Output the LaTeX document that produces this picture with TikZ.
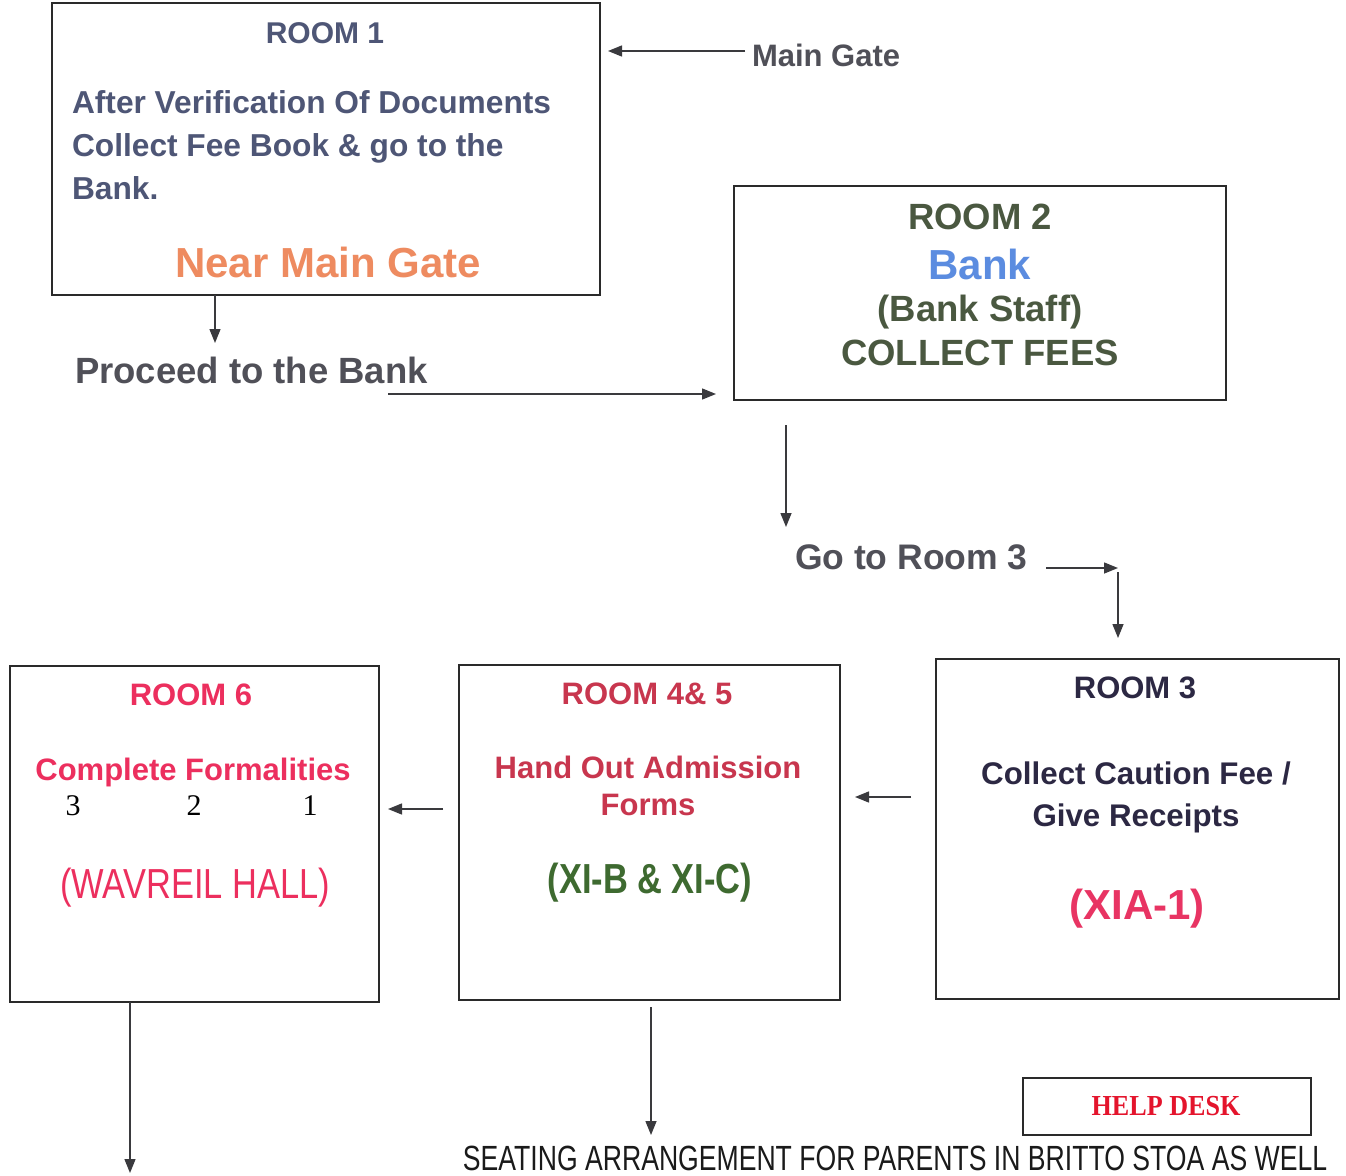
\documentclass[tikz,border=0pt]{standalone}
\usepackage{fontspec}
\setmainfont{Liberation Sans}
\newfontfamily\narrowfont[FakeStretch=0.82]{Liberation Sans}
\newfontfamily\seatfont[FakeStretch=0.76]{Liberation Sans}
\newfontfamily\digitfont{Liberation Serif}
\newfontfamily\helpfont[FakeStretch=0.9]{Liberation Serif}
\usetikzlibrary{arrows.meta}
\definecolor{boxline}{HTML}{2A2A2A}
\definecolor{arrgray}{HTML}{3A3A3E}
\definecolor{rOnecol}{HTML}{4E5676}
\definecolor{orangeA}{HTML}{EE8B60}
\definecolor{graytxt}{HTML}{505058}
\definecolor{rTwocol}{HTML}{4A5840}
\definecolor{bankblue}{HTML}{5B8CE0}
\definecolor{rSixred}{HTML}{EC2F5E}
\definecolor{rFFred}{HTML}{C8364E}
\definecolor{xigreen}{HTML}{3E6A30}
\definecolor{rThreenavy}{HTML}{2C2843}
\definecolor{xiapink}{HTML}{E83463}
\definecolor{helpred}{HTML}{E4142C}
\definecolor{seatcol}{HTML}{1A1A1A}
\newcommand\myfs[2]{\fontsize{#1}{#2}\selectfont}
\begin{document}
\begin{tikzpicture}[x=1pt,y=-1pt,
  roombox/.style={draw=boxline, line width=2pt, inner sep=0pt, outer sep=0pt, rectangle},
  lbl/.style={inner sep=0pt, outer sep=0pt},
  arr/.style={draw=arrgray, line width=1.4pt, -{Triangle[length=14pt,width=11pt]}}]
\useasboundingbox[fill=white] (0,0) rectangle (1346,1175);

% boxes
\node[roombox, minimum width=548pt, minimum height=292pt] (r1) at (326,149) {};
\node[roombox, minimum width=492pt, minimum height=214pt] (r2) at (980,293) {};
\node[roombox, minimum width=369pt, minimum height=336pt] (r6) at (194.5,834) {};
\node[roombox, minimum width=381pt, minimum height=335pt] (r45) at (649.5,832.5) {};
\node[roombox, minimum width=403pt, minimum height=340pt] (r3) at (1137.5,829) {};
\node[roombox, minimum width=288pt, minimum height=57pt] (hd) at (1167,1106.5) {};

% room 1
\node[lbl, text=rOnecol, font=\myfs{30}{36}\bfseries] (r1t) at (325,33) {ROOM 1};
\node[lbl, text=rOnecol, font=\myfs{31.7}{43}\bfseries, align=left, anchor=west] (r1b) at (72,145)
  {After Verification Of Documents\\Collect Fee Book \& go to the\\Bank.};
\node[lbl, text=orangeA, font=\myfs{42}{50}\bfseries] (r1n) at (328,262) {Near Main Gate};

% main gate
\node[lbl, text=graytxt, font=\myfs{31}{36}\bfseries, anchor=west] (mg) at (752,55) {Main Gate};
\coordinate (mgA) at (745,51);
\draw[arr, shorten >=8pt] (mgA) -- (mgA -| r1.east);

% proceed
\coordinate (p1) at (215,343);
\draw[arr] (p1 |- r1.south) -- (p1);
\node[lbl, text=graytxt, font=\myfs{36.5}{40}\bfseries, anchor=west] (pb) at (75,370) {Proceed to the Bank};
\coordinate (p2) at (388,394);
\draw[arr, shorten >=18pt] (p2) -- (p2 -| r2.west);

% room 2
\node[lbl, text=rTwocol, font=\myfs{36.5}{40}\bfseries] (r2t) at (980,217) {ROOM 2};
\node[lbl, text=bankblue, font=\myfs{42}{46}\bfseries] (r2b) at (980,264) {Bank};
\node[lbl, text=rTwocol, font=\myfs{36.5}{40}\bfseries] (r2s) at (980,312) {(Bank Staff)};
\node[lbl, text=rTwocol, font=\myfs{36.5}{40}\bfseries] (r2c) at (980,353) {COLLECT FEES};

% go to room 3
\coordinate (g1) at (786,527);
\draw[arr, shorten <=25pt] (g1 |- r2.south) -- (g1);
\node[lbl, text=graytxt, font=\myfs{35.5}{40}\bfseries, anchor=west] (g3) at (795,557) {Go to Room 3};
\coordinate (g2) at (1046,568);
\coordinate (g4) at (1118,568);
\draw[arr] (g2) -- (g4);
\draw[arr, shorten <=4pt, shorten >=21pt] (g4) -- (g4 |- r3.north);

% room 3
\node[lbl, text=rThreenavy, font=\myfs{31}{36}\bfseries] (r3t) at (1135,688) {ROOM 3};
\node[lbl, text=rThreenavy, font=\myfs{31.3}{42}\bfseries, align=center] (r3b) at (1136,797)
  {Collect Caution Fee /\\Give Receipts};
\node[lbl, text=xiapink, font=\myfs{42}{46}\bfseries] (r3x) at (1137,909) {(XIA-1)};

% room 4 & 5
\node[lbl, text=rFFred, font=\myfs{31}{36}\bfseries] (r45t) at (647,694) {ROOM 4\& 5};
\node[lbl, text=rFFred, font=\myfs{31}{37}\bfseries, align=center] (r45b) at (648,786)
  {Hand Out Admission\\Forms};
\node[lbl, text=xigreen, font=\narrowfont\myfs{42}{46}\bfseries] (r45x) at (650,883) {(XI-B \& XI-C)};

% room 6
\node[lbl, text=rSixred, font=\myfs{31}{36}\bfseries] (r6t) at (191,695) {ROOM 6};
\node[lbl, text=rSixred, font=\myfs{31}{36}\bfseries] (r6b) at (193,772) {Complete Formalities};
\node[lbl, text=black, font=\digitfont\myfs{30}{34}] (r6n) at (191.5,806)
  {\makebox[0pt]{3}\hspace{121pt}\makebox[0pt]{2}\hspace{116pt}\makebox[0pt]{1}};
\node[lbl, text=rSixred, font=\narrowfont\myfs{42}{46}] (r6h) at (195,888) {(WAVREIL HALL)};

% horizontal arrows between bottom rooms
\coordinate (h1) at (0,797);
\draw[arr, shorten <=25pt, shorten >=15pt] (h1 -| r3.west) -- (h1 -| r45.east);
\coordinate (h2) at (0,809);
\draw[arr, shorten <=16pt, shorten >=9pt] (h2 -| r45.west) -- (h2 -| r6.east);

% down arrows
\coordinate (d1) at (130,1173);
\draw[arr] (d1 |- r6.south) -- (d1);
\coordinate (d2) at (651,1135);
\draw[arr, shorten <=7pt] (d2 |- r45.south) -- (d2);

% help desk and seating
\node[lbl, text=helpred, font=\helpfont\myfs{29}{34}\bfseries] (hdt) at (1166,1106) {HELP DESK};
\node[lbl, text=seatcol, font=\seatfont\myfs{35}{40}] (seat) at (895,1158)
  {SEATING ARRANGEMENT FOR PARENTS IN BRITTO STOA AS WELL};
\end{tikzpicture}
\end{document}
